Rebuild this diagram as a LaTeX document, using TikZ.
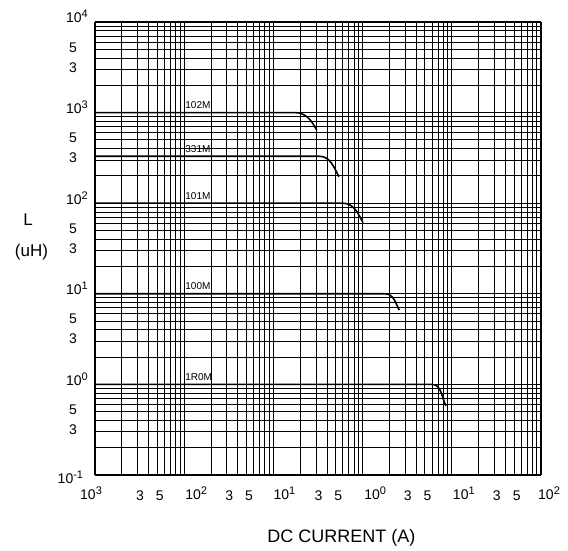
\documentclass[tikz,border=0pt]{standalone}
\usepackage{fontspec}
\setmainfont{Liberation Sans}
\usetikzlibrary{positioning}
\tikzset{%
  % Specifications for the log-log grid:
  gridline/.style = {draw=black, line width=0.9pt},
  decadeline/.style = {gridline, line width=1.2pt},
  % Specifications for the inductance curves:
  curve/.style = {draw=black, line width=1.6pt},
  % Specifications for style of texts:
  ticklabel/.style = {inner sep=0pt, font=\fontsize{14}{14}\selectfont},
  partlabel/.style = {inner sep=0pt, anchor=south west,
    font=\fontsize{10}{10}\selectfont},
  axistitle/.style = {inner sep=0pt, font=\fontsize{17}{17}\selectfont},
}
\newcommand{\decadelabel}[1]{10\raisebox{5pt}{\fontsize{11}{11}\selectfont #1}}

\begin{document}
\begin{tikzpicture}[x=89.2pt, y=90.6pt]
    \useasboundingbox (-4.06502,-1.83885) rectangle (2.30269,4.24283);
    % grid (current 1e-3..1e2 A, inductance 1e-1..1e4 uH)
    \foreach \d in {-3,...,1}
      \foreach \m in {2,...,9}
        \draw[gridline] ({\d+log10(\m)},-1) -- ({\d+log10(\m)},4);
    \foreach \d in {-1,...,3}
      \foreach \m in {2,...,9}
        \draw[gridline] (-3,{\d+log10(\m)}) -- (2,{\d+log10(\m)});
    \foreach \d in {-3,...,2}
      \draw[decadeline] (\d,-1) -- (\d,4);
    \foreach \d in {-1,...,4}
      \draw[decadeline] (-3,\d) -- (2,\d);
    % curves
    \foreach \partno/\ly/\xf/\xe/\ye in {102M/3/-0.758/-0.515/2.808,
        331M/2.5185/-0.489/-0.265/2.292, 101M/2/-0.223/0.005/1.785,
        100M/1/0.251/0.411/0.821, 1R0M/0/0.775/0.935/-0.238}{
      \draw[curve] (-3,\ly) -- (\xf,\ly) to[out=0,in=118] (\xe,\ye);
      \node[partlabel, xshift=1pt, yshift=3.5pt] (lbl\partno) at (-2,\ly) {\partno};
    }
    % y axis labels
    \foreach \d/\s/\dx/\dy in {4/4/-7pt/-1pt, 3/3/-7pt/-1pt, 2/2/-7pt/-1pt,
        1/1/-7pt/-1pt, 0/0/-7pt/-1pt, -1/-1/-11.7pt/-9pt}
      \node[ticklabel, anchor=base east, xshift=\dx, yshift=\dy] (ydec\d) at (-3,\d) {\decadelabel{\s}};
    \foreach \d in {-1,...,3}
      \foreach \m in {3,5}
        \node[ticklabel, xshift=-22pt, yshift=2pt] (ytick\d\m) at (-3,{\d+log10(\m)}) {\m};
    % x axis labels
    \foreach \d/\s/\dx in {-3/3/-15pt, -2/2/1pt, -1/1/0pt, 0/0/1.5pt, 1/1/1pt, 2/2/-3pt}
      \node[ticklabel, anchor=base west, xshift=\dx, yshift=-25pt] (xdec\d) at (\d,-1) {\decadelabel{\s}};
    \foreach \d in {-3,...,1}
      \foreach \m in {3,5}
        \node[ticklabel, anchor=base, xshift=2.5pt, yshift=-26pt] (xtick\d\m) at ({\d+log10(\m)},-1) {\m};
    % axis titles
    \node[axistitle] (ytitle) at (-3.751,1.820) {L};
    \node[axistitle] (yunit) at (-3.712,1.456) {(uH)};
    \node[axistitle, font=\fontsize{18}{18}\selectfont] (xtitle) at (-0.237,-1.695) {DC CURRENT (A)};
\end{tikzpicture}
\end{document}
